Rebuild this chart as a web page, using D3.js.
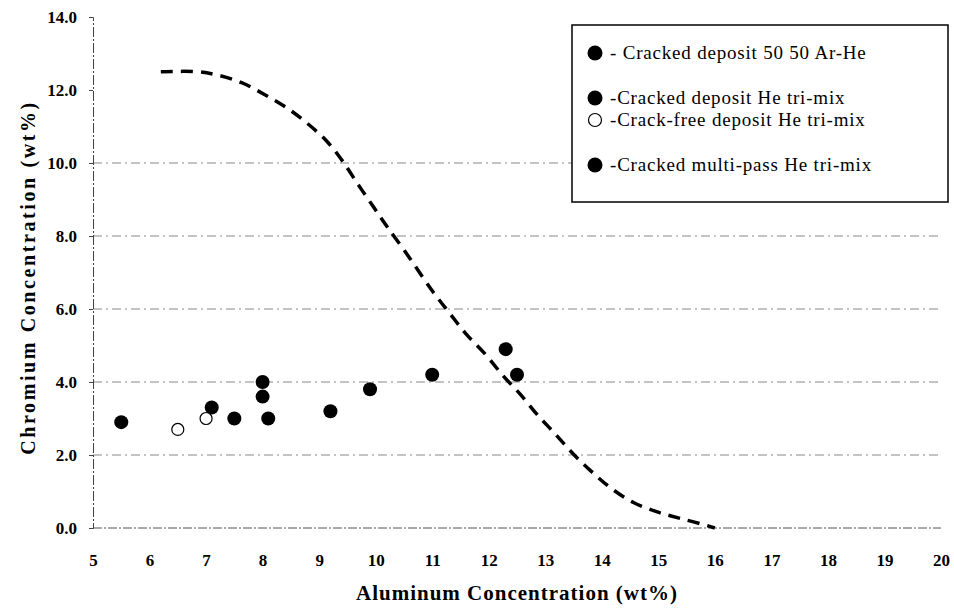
<!DOCTYPE html>
<html>
<head>
<meta charset="utf-8">
<script src="https://cdn.jsdelivr.net/npm/d3@7"></script>
<style>
  html, body { margin: 0; padding: 0; background: #fff; }
  svg { display: block; font-family: "Liberation Serif", "DejaVu Serif", serif; }
</style>
</head>
<body>
<div id="chart"></div>
<script>
// Datos
const xTicks = [5, 6, 7, 8, 9, 10, 11, 12, 13, 14, 15, 16, 17, 18, 19, 20];
const yTicks = [0, 2, 4, 6, 8, 10, 12, 14];
const yGrid = [2, 4, 6, 8, 10];

const seriesNames = [
  '- Cracked deposit 50 50 Ar-He',
  '-Cracked deposit He tri-mix',
  '-Crack-free deposit He tri-mix',
  '-Cracked multi-pass He tri-mix'
];
const seriesOpen = [false, false, true, false];

// puntos por serie: [Al, Cr]
const arHePoints = [[5.5, 2.9], [7.5, 3.0], [8.1, 3.0]];
const triMixPoints = [[7.1, 3.3], [8.0, 4.0], [8.0, 3.6], [9.2, 3.2], [9.9, 3.8], [11.0, 4.2]];
const crackFreePoints = [[6.5, 2.7], [7.0, 3.0]];
const multiPassPoints = [[12.3, 4.9], [12.5, 4.2]];

// curva límite (línea discontinua)
const boundary = [
  [6.2, 12.5], [6.85, 12.5], [7.2, 12.41], [7.63, 12.2], [8.04, 11.87],
  [8.43, 11.51], [8.78, 11.1], [9.14, 10.59], [9.42, 10.04], [9.69, 9.41],
  [9.96, 8.8], [10.2, 8.26], [10.6, 7.4], [11.0, 6.5], [11.3, 5.9],
  [11.61, 5.3], [11.94, 4.76], [12.26, 4.16], [12.56, 3.66], [12.85, 3.12],
  [13.18, 2.57], [13.5, 2.02], [13.83, 1.53], [14.18, 1.07], [14.56, 0.7],
  [14.98, 0.44], [15.42, 0.25], [15.88, 0.06], [16.0, 0.0]
];

const width = 954, height = 616;
const margin = { top: 17, right: 13, bottom: 88, left: 93 };

const svg = d3.select('#chart').append('svg')
  .attr('width', width).attr('height', height);

const x = d3.scaleLinear().domain([5, 20]).range([margin.left, width - margin.right]);
const y = d3.scaleLinear().domain([0, 14]).range([height - margin.bottom, margin.top]);

// líneas de rejilla
svg.append('g').selectAll('line').data(yGrid).join('line')
  .attr('x1', x(5)).attr('x2', x(20))
  .attr('y1', d => y(d)).attr('y2', d => y(d))
  .attr('stroke', '#888').attr('stroke-width', 1)
  .attr('stroke-dasharray', '9,4,2,4');

// eje x (línea en 0)
svg.append('line')
  .attr('x1', x(5)).attr('x2', x(20)).attr('y1', y(0)).attr('y2', y(0))
  .attr('stroke', '#555').attr('stroke-width', 1)
  .attr('stroke-dasharray', '9,2,2,2');

// eje y
const yAxis = d3.axisLeft(y).tickValues(yTicks).tickFormat(d3.format('.1f')).tickSize(4).tickPadding(12);
const gy = svg.append('g').attr('transform', `translate(${x(5)},0)`).call(yAxis);
gy.select('.domain').attr('stroke', '#444').attr('stroke-dasharray', '10,2,2,2');
gy.selectAll('.tick line').attr('stroke', '#444');
gy.selectAll('text').attr('font-family', '"Liberation Serif", serif')
  .attr('font-size', 17).attr('font-weight', 'bold').attr('fill', '#000');

// etiquetas del eje x
const xAxis = d3.axisBottom(x).tickValues(xTicks).tickSize(0).tickPadding(26);
const gx = svg.append('g').attr('transform', `translate(0,${y(0)})`).call(xAxis);
gx.select('.domain').remove();
gx.selectAll('text').attr('font-family', '"Liberation Serif", serif')
  .attr('font-size', 17).attr('font-weight', 'bold').attr('fill', '#000');

// títulos de ejes
svg.append('text')
  .attr('x', (x(5) + x(20)) / 2).attr('y', 600)
  .attr('text-anchor', 'middle')
  .attr('font-size', 21).attr('font-weight', 'bold')
  .attr('letter-spacing', 1)
  .text('Aluminum Concentration (wt%)');

svg.append('text')
  .attr('transform', `translate(35,${(y(0) + y(14)) / 2 + 5}) rotate(-90)`)
  .attr('text-anchor', 'middle')
  .attr('font-size', 20).attr('font-weight', 'bold')
  .attr('letter-spacing', 2.6)
  .text('Chromium Concentration (wt%)');

// curva discontinua
const line = d3.line().x(d => x(d[0])).y(d => y(d[1])).curve(d3.curveCatmullRom);
svg.append('path').datum(boundary)
  .attr('d', line)
  .attr('fill', 'none').attr('stroke', '#000')
  .attr('stroke-width', 3.5).attr('stroke-dasharray', '12,8');

// puntos
const allSeries = [arHePoints, triMixPoints, crackFreePoints, multiPassPoints];
allSeries.forEach((pts, i) => {
  svg.append('g').selectAll('circle').data(pts).join('circle')
    .attr('cx', d => x(d[0])).attr('cy', d => y(d[1]))
    .attr('r', seriesOpen[i] ? 6 : 7)
    .attr('fill', seriesOpen[i] ? '#fff' : '#000')
    .attr('stroke', '#000').attr('stroke-width', seriesOpen[i] ? 1.2 : 0);
});

// leyenda
const lg = svg.append('g');
lg.append('rect')
  .attr('x', 572).attr('y', 25).attr('width', 376).attr('height', 177)
  .attr('fill', '#fff').attr('stroke', '#000').attr('stroke-width', 1.5);
const legendY = [53, 98, 120, 165];
seriesNames.forEach((name, i) => {
  lg.append('circle')
    .attr('cx', 595).attr('cy', legendY[i])
    .attr('r', seriesOpen[i] ? 6.5 : 7.5)
    .attr('fill', seriesOpen[i] ? '#fff' : '#000')
    .attr('stroke', '#000').attr('stroke-width', seriesOpen[i] ? 1.2 : 0);
  lg.append('text')
    .attr('x', 610).attr('y', legendY[i] + 6)
    .attr('font-size', 19)
    .attr('letter-spacing', 0.8)
    .text(name);
});
</script>
</body>
</html>
